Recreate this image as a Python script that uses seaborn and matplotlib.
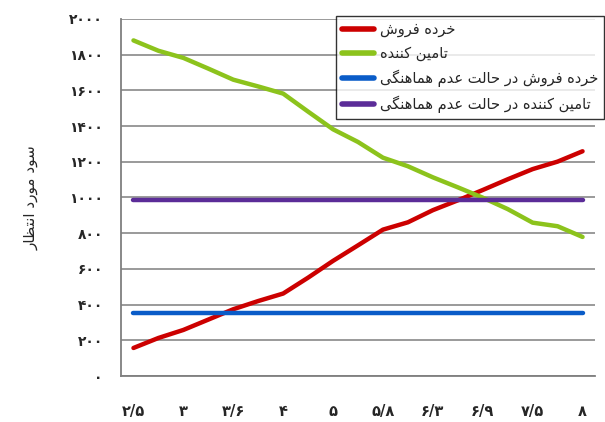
import numpy as np
import pandas as pd
import matplotlib
matplotlib.use("Agg")
import matplotlib.pyplot as plt
import seaborn as sns
from matplotlib.ticker import FixedLocator

sns.set_style("white")
plt.rcParams['font.family'] = ['DejaVu Sans']

# --- data ---
x_labels = ['۲/۵', '', '۳', '', '۳/۶', '', '۴', '', '۵', '', '۵/۸', '',
            '۶/۳', '', '۶/۹', '', '۷/۵', '', '۸']
retailer = [157, 213, 258, 316, 374, 420, 462, 551, 645, 732, 820, 861,
            929, 984, 1042, 1102, 1159, 1201, 1259]
supplier = [1880, 1822, 1782, 1722, 1660, 1622, 1582, 1481, 1382, 1311, 1223,
            1175, 1113, 1057, 999, 935, 859, 839, 779]
retailer_nc = [353] * 19
supplier_nc = [985] * 19
series_names = ['خرده فروش', 'تامین کننده',
                'خرده فروش در حالت عدم هماهنگی', 'تامین کننده در حالت عدم هماهنگی']
y_ticks = [0, 200, 400, 600, 800, 1000, 1200, 1400, 1600, 1800, 2000]
y_title = 'سود مورد انتظار'

# --- simple arabic/persian shaping (matplotlib has no bidi/shaping) ---
FORMS = {
    'ا': ('\uFE8D', '\uFE8E', None, None),
    'ت': ('\uFE95', '\uFE96', '\uFE97', '\uFE98'),
    'ح': ('\uFEA1', '\uFEA2', '\uFEA3', '\uFEA4'),
    'خ': ('\uFEA5', '\uFEA6', '\uFEA7', '\uFEA8'),
    'د': ('\uFEA9', '\uFEAA', None, None),
    'ر': ('\uFEAD', '\uFEAE', None, None),
    'ز': ('\uFEAF', '\uFEB0', None, None),
    'س': ('\uFEB1', '\uFEB2', '\uFEB3', '\uFEB4'),
    'ش': ('\uFEB5', '\uFEB6', '\uFEB7', '\uFEB8'),
    'ظ': ('\uFEC5', '\uFEC6', '\uFEC7', '\uFEC8'),
    'ع': ('\uFEC9', '\uFECA', '\uFECB', '\uFECC'),
    'ف': ('\uFED1', '\uFED2', '\uFED3', '\uFED4'),
    'ل': ('\uFEDD', '\uFEDE', '\uFEDF', '\uFEE0'),
    'م': ('\uFEE1', '\uFEE2', '\uFEE3', '\uFEE4'),
    'ن': ('\uFEE5', '\uFEE6', '\uFEE7', '\uFEE8'),
    'ه': ('\uFEE9', '\uFEEA', '\uFEEB', '\uFEEC'),
    'و': ('\uFEED', '\uFEEE', None, None),
    'ک': ('\uFB8E', '\uFB8F', '\uFB90', '\uFB91'),
    'گ': ('\uFB92', '\uFB93', '\uFB94', '\uFB95'),
    'ی': ('\uFBFC', '\uFBFD', '\uFBFE', '\uFBFF'),
}


def shape(text):
    out = []
    for i, c in enumerate(text):
        if c not in FORMS:
            out.append(c)
            continue
        prev = text[i - 1] if i > 0 else None
        nxt = text[i + 1] if i + 1 < len(text) else None
        iso, fin, ini, med = FORMS[c]
        jp = prev in FORMS and FORMS[prev][2] is not None
        jn = ini is not None and nxt in FORMS
        if jp and jn:
            out.append(med)
        elif jp:
            out.append(fin)
        elif jn:
            out.append(ini)
        else:
            out.append(iso)
    return ''.join(reversed(out))


def fa_digits(n):
    return str(n).translate(str.maketrans('0123456789', '۰۱۲۳۴۵۶۷۸۹'))


idx = np.arange(len(x_labels))
df = pd.DataFrame({
    'x': np.tile(idx, 4),
    'y': retailer + supplier + retailer_nc + supplier_nc,
    'series': np.repeat(series_names, len(idx)),
})
palette = dict(zip(series_names, ['#CC0000', '#8CC31C', '#0A5CC8', '#5B2C98']))

fig = plt.figure(figsize=(6.05, 4.22), dpi=100)
ax = fig.add_axes([0.2, 0.109, 0.7835, 0.846])

sns.lineplot(data=df, x='x', y='y', hue='series', hue_order=series_names,
             palette=palette, linewidth=3.2, sort=False, ax=ax,
             solid_capstyle='round', legend=False, zorder=3)

ax.set_xlim(-0.5, 18.5)
ax.set_ylim(0, 2000)
ax.set_yticks(y_ticks)
ax.set_yticklabels([fa_digits(v) for v in y_ticks], fontsize=10, fontweight='bold')
ax.yaxis.grid(True, color='#7F7F7F', linewidth=1.1)
ax.xaxis.grid(False)

ax.set_xticks(idx[::2])
ax.set_xticklabels([x_labels[i] for i in idx[::2]], fontsize=10.5, fontweight='bold')
ax.xaxis.set_minor_locator(FixedLocator(np.arange(-0.5, 18.0, 1.0)))
ax.tick_params(axis='x', which='major', length=0, pad=20)
ax.tick_params(axis='x', which='minor', length=7, width=1.1, color='#7F7F7F', direction='out')
ax.tick_params(axis='y', length=10, width=1.1, color='#7F7F7F', direction='inout', pad=8)

for s in ['top', 'right']:
    ax.spines[s].set_visible(False)
for s in ['left', 'bottom']:
    ax.spines[s].set_color('#7F7F7F')
    ax.spines[s].set_linewidth(1.3)

ax.set_xlabel('')
ax.set_ylabel(shape(y_title), fontsize=11, labelpad=22)

handles = [plt.Line2D([], [], color=palette[n], linewidth=4, solid_capstyle='round')
           for n in series_names]
leg = fig.legend(handles, [shape(n) for n in series_names], loc='upper left',
                 bbox_to_anchor=(0.555, 0.962), fontsize=10.5, frameon=True,
                 fancybox=False, handlelength=2.2, borderpad=0.4,
                 labelspacing=0.6, handletextpad=0.4, borderaxespad=0)
leg.get_frame().set_edgecolor('black')
leg.get_frame().set_linewidth(1.0)

fig.savefig('out.png', dpi=100)
